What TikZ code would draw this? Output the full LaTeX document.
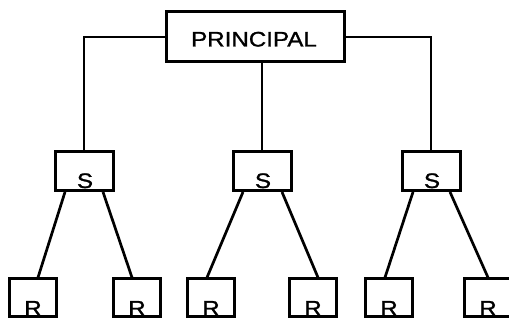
\documentclass[tikz,border=0pt]{standalone}
\usepackage{fontspec}
\newfontfamily\labfont[FakeStretch=1.15,FakeBold=1.2]{Liberation Sans}
\begin{document}
\begin{tikzpicture}[x=1pt,y=-1pt,
  box/.style={draw,line width=3pt,inner sep=0pt},
  lbl/.style={font=\labfont\fontsize{21}{21}\selectfont,inner sep=0pt,anchor=base},
  wire/.style={line width=2.7pt}]
\clip (0,0) rectangle (509,320);
\node[box,minimum width=178pt,minimum height=50pt] (p) at (255,37) {};
\node[lbl] (pt) at (254,46.5) {PRINCIPAL};
\foreach \n/\x in {s1/84,s2/262,s3/431}{
  \node[box,minimum width=58pt,minimum height=39pt] (\n) at (\x,171) {};
  \node[lbl] (\n t) at (\x+1,188) {S};
}
\foreach \n/\x in {r1/33,r2/137,r3/211,r4/313,r5/389,r6/488}{
  \node[box,minimum width=47pt,minimum height=38pt] (\n) at (\x,298) {};
  \node[lbl] (\n t) at (\x,315.5) {R};
}
\draw[wire] (p.west) -| (s1.north);
\draw[wire] (p.south -| s2.north) -- (s2.north);
\draw[wire] (p.east) -| (s3.north);
\draw[wire] ([xshift=-19pt]s1.south) -- ([xshift=5pt]r1.north);
\draw[wire] ([xshift=19pt]s1.south) -- ([xshift=-5pt]r2.north);
\draw[wire] ([xshift=-19pt]s2.south) -- ([xshift=-4pt]r3.north);
\draw[wire] ([xshift=20pt]s2.south) -- ([xshift=5pt]r4.north);
\draw[wire] ([xshift=-18pt]s3.south) -- ([xshift=-4pt]r5.north);
\draw[wire] ([xshift=19pt]s3.south) -- ([xshift=0pt]r6.north);
\end{tikzpicture}
\end{document}
